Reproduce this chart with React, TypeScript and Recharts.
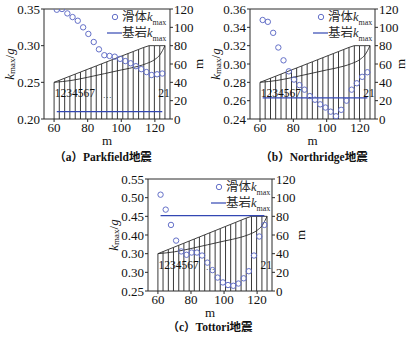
import React from 'react';
import {
  ComposedChart,
  Line,
  Scatter,
  XAxis,
  YAxis,
  ReferenceLine,
  ReferenceDot,
  Legend,
} from 'recharts';

const BLUE = '#6470c8';
const BED = '#3347b3';
const INK = '#2a2a2a';
const SERIF = '"Liberation Serif", "Times New Roman", serif';
const CJK = '"Liberation Serif", "Noto Sans CJK SC", serif';

// slope geometry: slice edges (m) and ground height on the right axis (m)
const sliceEdges = [60, 63.1, 66.3, 69.4, 72.6, 75.7, 78.9, 82.0, 85.1, 88.3, 91.4, 94.6, 97.7, 100.9, 104.0, 107.1, 110.3, 113.4, 116.6, 119.7, 122.9, 126];
const groundTop = [40, 42.2, 44.5, 46.7, 49.0, 51.2, 53.5, 55.7, 57.9, 60.2, 62.4, 64.7, 66.9, 69.2, 71.4, 73.6, 75.9, 78.1, 80, 80, 80, 80];
// slip surface
const slipX = [60, 70, 80, 90, 100, 110, 115, 120, 123, 126];
const slipM = [40, 42, 45.5, 49.5, 53.5, 57.5, 60.5, 65, 70, 80];

// slice centres, where k_max of each slice is plotted
const sliceMid = [61.6, 64.7, 67.9, 71.0, 74.1, 77.3, 80.4, 83.6, 86.7, 89.9, 93.0, 96.1, 99.3, 102.4, 105.6, 108.7, 111.9, 115.0, 118.1, 121.3, 124.4];

const kParkfield = [0.349, 0.350, 0.344, 0.339, 0.334, 0.325, 0.316, 0.305, 0.295, 0.287, 0.286, 0.285, 0.282, 0.279, 0.276, 0.272, 0.268, 0.264, 0.260, 0.261, 0.262];
const kNorthridge = [0.348, 0.346, 0.334, 0.318, 0.304, 0.292, 0.283, 0.277, 0.272, 0.265, 0.261, 0.256, 0.2525, 0.248, 0.243, 0.250, 0.260, 0.272, 0.279, 0.286, 0.291];
const kTottori = [0.508, 0.468, 0.427, 0.385, 0.356, 0.347, 0.353, 0.353, 0.345, 0.326, 0.306, 0.286, 0.273, 0.266, 0.264, 0.270, 0.284, 0.303, 0.345, 0.396, 0.427];

const bedParkfield = 0.21;
const bedNorthridge = 0.263;
const bedTottori = 0.452;

const ticksA = [0.2, 0.25, 0.3, 0.35];
const ticksB = [0.24, 0.26, 0.28, 0.3, 0.32, 0.34, 0.36];
const ticksC = [0.25, 0.3, 0.35, 0.4, 0.45, 0.5, 0.55];
const labelsC = ['0.25', '0.30', '0.30', '0.40', '0.45', '0.50', '0.55'];
const mTicks = [0, 20, 40, 60, 80, 100, 120];
const xTicks = [60, 80, 100, 120];

const ground = sliceEdges.map((x, i) => ({ x, m: groundTop[i] }));
const slip = slipX.map((x, i) => ({ x, m: slipM[i] }));

const Kmax = () => (
  <span style={{ fontFamily: SERIF }}>
    <i>k</i>
    <sub style={{ fontSize: 8, lineHeight: 0 }}>max</sub>
  </span>
);

const LegendBox = () => (
  <div style={{ fontFamily: CJK, fontSize: 12.5, color: INK, lineHeight: '16px' }}>
    <div style={{ display: 'flex', alignItems: 'center', height: 16 }}>
      <svg width={15} height={16}>
        <circle cx={8} cy={8} r={2.7} fill="none" stroke={BLUE} strokeWidth={1} />
      </svg>
      <span>滑体<Kmax /></span>
    </div>
    <div style={{ display: 'flex', alignItems: 'center', height: 16 }}>
      <svg width={15} height={16}>
        <line x1={0} y1={8} x2={15} y2={8} stroke={BED} strokeWidth={1.2} />
      </svg>
      <span>基岩<Kmax /></span>
    </div>
  </div>
);

const tickStyle = { fontFamily: SERIF, fontSize: 13, fill: '#111' };

const sliceText = (txt, size) => ({ viewBox }) => (
  <text x={viewBox.x} y={viewBox.y} dominantBaseline="central" fontFamily={SERIF} fontSize={size} fill="#111">
    {txt}
  </text>
);

function Panel({ left, top, width, height, rightW, k, bed, yDomain, yTicks, yLabels }) {
  const pts = sliceMid.map((x, i) => ({ x, k: k[i] }));
  const bedLine = [
    { x: sliceMid[0], k: bed },
    { x: sliceMid[sliceMid.length - 1], k: bed },
  ];
  return (
    <div style={{ position: 'absolute', left, top }}>
      <ComposedChart width={width} height={height} margin={{ top: 9, right: 0, bottom: 0, left: 0 }}>
        <XAxis
          dataKey="x"
          type="number"
          domain={[54, 129]}
          ticks={xTicks}
          interval={0}
          allowDataOverflow
          height={30}
          tickSize={3}
          tickMargin={1}
          tick={tickStyle}
          stroke={INK}
          label={{ value: 'm', position: 'insideBottom', offset: 4, style: { fontFamily: SERIF, fontSize: 13, fill: '#111' } }}
        />
        <YAxis
          yAxisId="left"
          domain={yDomain}
          ticks={yTicks}
          interval={0}
          allowDataOverflow
          width={44}
          tickSize={3}
          tickMargin={1}
          tick={tickStyle}
          stroke={INK}
          tickFormatter={(v, i) => (yLabels ? yLabels[i] : v.toFixed(2))}
          label={({ viewBox }) => {
            const cx = viewBox.x + 9;
            const cy = viewBox.y + viewBox.height / 2;
            return (
              <text
                x={cx}
                y={cy}
                transform={`rotate(-90 ${cx} ${cy})`}
                textAnchor="middle"
                dominantBaseline="central"
                fontFamily={SERIF}
                fontSize={13}
                fill="#111"
              >
                <tspan fontStyle="italic">k</tspan>
                <tspan fontSize={9} dy={3}>max</tspan>
                <tspan dy={-3}>/</tspan>
                <tspan fontStyle="italic">g</tspan>
              </text>
            );
          }}
        />
        <YAxis
          yAxisId="right"
          orientation="right"
          domain={[0, 120]}
          ticks={mTicks}
          interval={0}
          width={rightW}
          tickSize={3}
          tickMargin={1}
          tick={tickStyle}
          stroke={INK}
          label={({ viewBox }) => {
            const cx = viewBox.x + rightW - 8;
            const cy = viewBox.y + viewBox.height / 2;
            return (
              <text
                x={cx}
                y={cy}
                transform={`rotate(-90 ${cx} ${cy})`}
                textAnchor="middle"
                dominantBaseline="central"
                fontFamily={SERIF}
                fontSize={13}
                fill="#111"
              >
                m
              </text>
            );
          }}
        />
        <ReferenceLine yAxisId="right" y={120} stroke={INK} />
        {sliceEdges.map((x, i) => (
          <ReferenceLine
            key={x}
            yAxisId="right"
            segment={[{ x, y: 0 }, { x, y: groundTop[i] }]}
            stroke="#222"
            strokeWidth={0.9}
          />
        ))}
        <Line yAxisId="right" data={ground} dataKey="m" type="linear" stroke={INK} strokeWidth={0.9} dot={false} isAnimationActive={false} />
        <Line yAxisId="right" data={slip} dataKey="m" type="monotone" stroke={INK} strokeWidth={0.9} dot={false} isAnimationActive={false} />
        <ReferenceDot yAxisId="right" x={60.4} y={28} r={0} label={sliceText('1234567', 11.5)} />
        <ReferenceDot yAxisId="right" x={89} y={26} r={0} label={sliceText('…', 9)} />
        <ReferenceDot yAxisId="right" x={122} y={28} r={0} label={sliceText('21', 11.5)} />
        <Line yAxisId="left" data={bedLine} dataKey="k" type="linear" stroke={BED} strokeWidth={1.3} dot={false} isAnimationActive={false} />
        <Scatter
          yAxisId="left"
          data={pts}
          dataKey="k"
          isAnimationActive={false}
          shape={(p) => <circle cx={p.cx} cy={p.cy} r={2.7} fill="none" stroke={BLUE} strokeWidth={1} />}
        />
        <Legend
          layout="vertical"
          align="center"
          verticalAlign="middle"
          content={<LegendBox />}
          wrapperStyle={{ position: 'absolute', top: 9, left: 107, width: 'auto' }}
        />
      </ComposedChart>
    </div>
  );
}

const Caption = ({ x, y, tag, name }) => (
  <div
    style={{
      position: 'absolute',
      left: x - 80,
      top: y,
      width: 160,
      textAlign: 'center',
      fontFamily: CJK,
      fontSize: 11.5,
      fontWeight: 'bold',
      color: '#111',
      lineHeight: '14px',
    }}
  >
    （{tag}）{name}地震
  </div>
);

export default function App() {
  return (
    <div style={{ position: 'absolute', left: 0, top: 0, width: 408, height: 337, background: '#fff' }}>
      <Panel left={0} top={0} width={206} height={149} rightW={36} k={kParkfield} bed={bedParkfield} yDomain={[0.2, 0.35]} yTicks={ticksA} />
      <Panel left={206} top={0} width={202} height={149} rightW={33} k={kNorthridge} bed={bedNorthridge} yDomain={[0.24, 0.36]} yTicks={ticksB} />
      <Panel left={104} top={170} width={204} height={151} rightW={36} k={kTottori} bed={bedTottori} yDomain={[0.25, 0.55]} yTicks={ticksC} yLabels={labelsC} />
      <Caption x={103} y={150} tag="a" name="Parkfield" />
      <Caption x={314} y={150} tag="b" name="Northridge" />
      <Caption x={210} y={320} tag="c" name="Tottori" />
    </div>
  );
}
